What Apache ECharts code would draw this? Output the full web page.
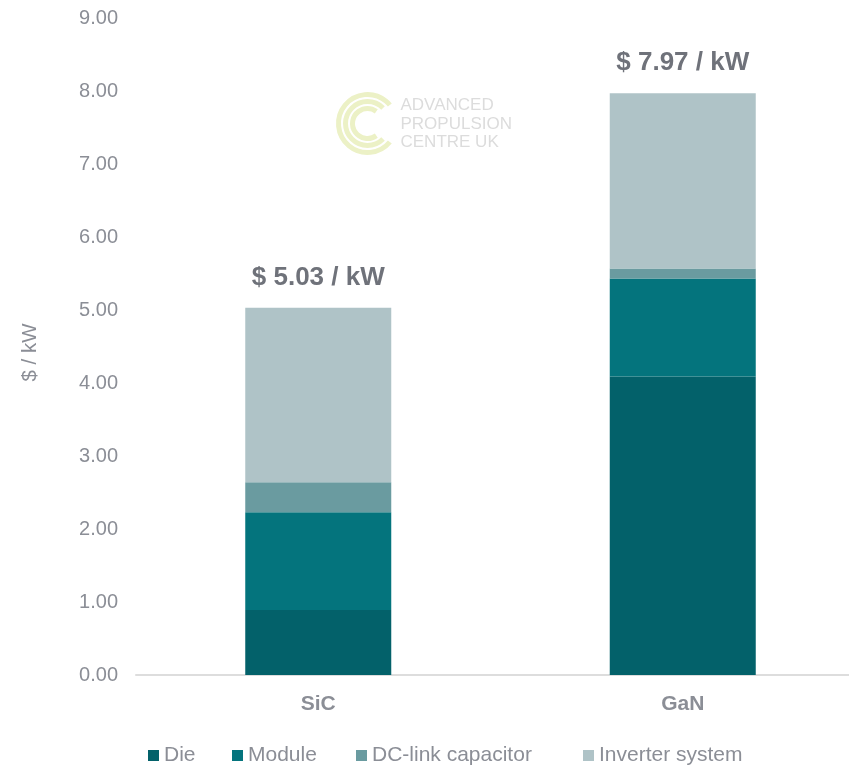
<!DOCTYPE html>
<html>
<head>
<meta charset="utf-8">
<script src="https://cdn.jsdelivr.net/npm/echarts@6/dist/echarts.min.js"></script>
<style>html,body{margin:0;padding:0;background:#fff}#c{width:849px;height:768px}</style>
</head>
<body>
<div id="c"></div>
<script>
var categories = ['SiC', 'GaN'];
var dieValues = [0.89, 4.09];
var moduleValues = [1.34, 1.34];
var dcLinkValues = [0.41, 0.14];
var inverterValues = [2.39, 2.40];
var totals = [5.03, 7.97];
var seriesNames = ['Die', 'Module', 'DC-link capacitor', 'Inverter system'];
var yTicks = {min: 0, max: 9, interval: 1};

var colors = ['#03616A', '#04747D', '#6A9BA0', '#AFC3C7'];
var font = 'Arial, "Liberation Sans", sans-serif';
var chart = echarts.init(document.getElementById('c'));
var seriesData = [dieValues, moduleValues, dcLinkValues, inverterValues];
var series = seriesData.map(function (d, i) {
  var s = {
    name: seriesNames[i], type: 'bar', stack: 'total', data: d,
    barWidth: 146, itemStyle: {color: colors[i]}, emphasis: {disabled: true}
  };
  if (i === 3) {
    s.label = {
      show: true, position: 'top', distance: 17,
      formatter: function (p) { return '$ ' + totals[p.dataIndex].toFixed(2) + ' / kW'; },
      fontFamily: font, fontWeight: 'bold', fontSize: 26, color: '#6F727A'
    };
  }
  return s;
});
var legendLefts = [148, 232, 356, 583];
var legends = seriesNames.map(function (n, i) {
  return {
    data: [n], left: legendLefts[i], top: 745, itemWidth: 11, itemHeight: 11,
    icon: 'rect', padding: 0,
    textStyle: {fontFamily: font, fontSize: 21, color: '#8B8E96'}
  };
});
chart.setOption({
  animation: false,
  color: colors,
  grid: {left: 136, top: 18, right: -16, bottom: 93, outerBoundsMode: 'none'},
  legend: legends,
  xAxis: {
    type: 'category', data: categories,
    axisLine: {lineStyle: {color: '#DDDDDD', width: 2}},
    axisTick: {show: false},
    axisLabel: {fontFamily: font, fontWeight: 'bold', fontSize: 21, color: '#8B8E96', margin: 19}
  },
  yAxis: {
    type: 'value', min: yTicks.min, max: yTicks.max, interval: yTicks.interval,
    name: '$ / kW', nameLocation: 'middle', nameGap: 95, nameRotate: 90,
    nameTextStyle: {fontFamily: font, fontSize: 20.5, color: '#8B8E96', padding: [0, 12, 0, 0]},
    splitLine: {show: false}, axisLine: {show: false}, axisTick: {show: false},
    axisLabel: {fontFamily: font, fontSize: 20, color: '#8B8E96', margin: 18,
      formatter: function (v) { return v.toFixed(2); }}
  },
  graphic: [{
    type: 'group', left: 336, top: 92, silent: true,
    children: [
      {type: 'arc', shape: {cx: 31, cy: 31, r: 29, startAngle: Math.PI * 0.22, endAngle: Math.PI * 1.78, clockwise: true},
        style: {stroke: '#ECF1C6', lineWidth: 5, fill: null}},
      {type: 'arc', shape: {cx: 31, cy: 31, r: 22, startAngle: Math.PI * 0.25, endAngle: Math.PI * 1.75, clockwise: true},
        style: {stroke: '#ECF1C6', lineWidth: 5, fill: null}},
      {type: 'arc', shape: {cx: 31, cy: 31, r: 15, startAngle: Math.PI * 0.3, endAngle: Math.PI * 1.7, clockwise: true},
        style: {stroke: '#ECF1C6', lineWidth: 5, fill: null}},
      {type: 'text', x: 64, y: 4, style: {text: 'ADVANCED\nPROPULSION\nCENTRE UK', fill: '#DCDCDC',
        font: '17px Arial, "Liberation Sans", sans-serif', lineHeight: 18.5}}
    ]
  }],
  series: series
});
</script>
</body>
</html>
